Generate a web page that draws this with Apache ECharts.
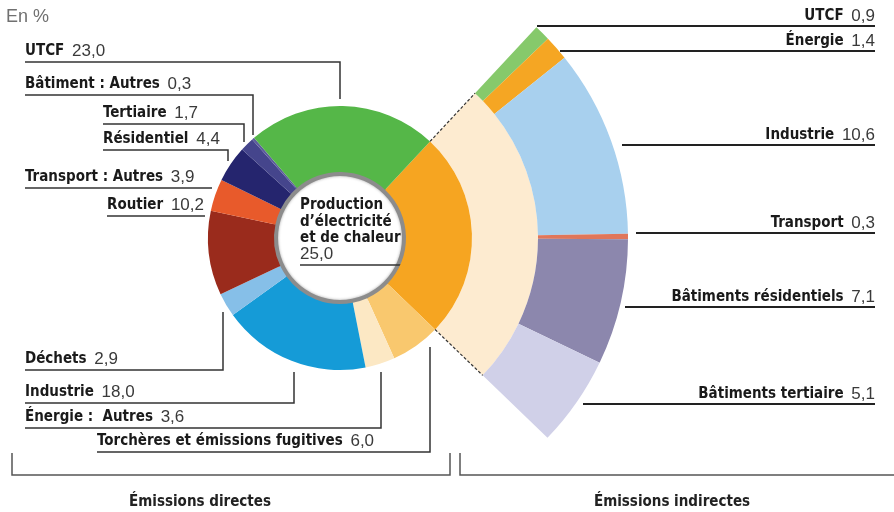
<!DOCTYPE html>
<html>
<head>
<meta charset="utf-8">
<script src="https://cdn.jsdelivr.net/npm/echarts@6/dist/echarts.min.js"></script>
<style>
  html, body { margin: 0; padding: 0; background: #fff; }
  #main { width: 894px; height: 512px; }
</style>
</head>
<body>
<div id="main"></div>
<script>
// émissions directes (anneau), sens horaire à partir de la production d'électricité
var directNames = ['Production\nd’électricité\net de chaleur', 'Torchères et émissions fugitives', 'Énergie :  Autres', 'Industrie', 'Déchets', 'Routier', 'Transport : Autres', 'Résidentiel', 'Tertiaire', 'Bâtiment : Autres', 'UTCF']
var directValues = [25.0, 6.0, 3.6, 18.0, 2.9, 10.2, 3.9, 4.4, 1.7, 0.3, 23.0]
var directColors = ['#f6a521', '#f9c86e', '#fce8c4', '#159bd7', '#86bfe8', '#9a2b1c', '#e85a2b', '#25256e', '#45458c', '#5d5d9c', '#55b748']

// émissions indirectes (éventail autour de la production d'électricité)
var indirectNames = ['UTCF', 'Énergie', 'Industrie', 'Transport', 'Bâtiments résidentiels', 'Bâtiments tertiaire']
var indirectValues = [0.9, 1.4, 10.6, 0.3, 7.1, 5.1]
var indirectColors = ['#86c96b', '#f5a623', '#a8d0ee', '#e0765a', '#8c87ad', '#d0d0e8']

// placement des étiquettes : [x du texte, y du soulignement, x du trait, y du bout du trait]
var directLabelPos = [
  [300, 265, 402, 265],
  [97, 452, 430, 347],
  [25, 428, 381, 372],
  [25, 403, 294, 372],
  [25, 370, 223, 312],
  [107, 216, 205, 216],
  [25, 188, 212, 188],
  [103, 150, 228, 161],
  [103, 124, 244, 142],
  [25, 95, 253, 135],
  [25, 62, 340, 99]
]
// [x droit du texte, y du soulignement, x de départ du trait]
var indirectLabelPos = [
  [875, 26, 537],
  [875, 51, 560],
  [875, 145, 622],
  [875, 233, 636],
  [875, 307, 625],
  [875, 404, 583]
]

var cx = 340
var cy = 238
var rHole = 66
var rDonut = 132
var rCream = 198
var rFan = 288
var startAngle = 47

var nameFont = '"DejaVu Sans Condensed", "Liberation Sans Narrow", sans-serif'
var valueFont = '"Liberation Sans", Arial, sans-serif'

function fmt (v) {
  return v.toFixed(1).replace('.', ',')
}

var total = directValues.reduce(function (a, b) { return a + b }, 0)
var prodValue = directValues[0]
var fanSum = indirectValues.reduce(function (a, b) { return a + b }, 0)
// l'éventail couvre le même angle que la part de la production
var fanFiller = fanSum * total / prodValue - fanSum

var richStyle = {
  n: { fontFamily: nameFont, fontWeight: 'bold', fontSize: 15, color: '#1a1a1a', lineHeight: 18 },
  v: { fontFamily: valueFont, fontSize: 17, color: '#3a3a3a', lineHeight: 18, padding: [0, 0, 0, 3] },
  cn: { fontFamily: nameFont, fontWeight: 'bold', fontSize: 15, color: '#1a1a1a', lineHeight: 16.5 },
  cv: { fontFamily: valueFont, fontSize: 17, color: '#3a3a3a', lineHeight: 16.5 }
}

var donutData = []
for (var i = 0; i < directValues.length; i++) {
  donutData.push({
    name: directNames[i],
    value: directValues[i],
    itemStyle: { color: directColors[i] }
  })
}

var creamData = [
  { value: prodValue, itemStyle: { color: '#fdebd0' } },
  { value: total - prodValue, itemStyle: { color: 'transparent' } }
]

var fanData = []
for (var j = 0; j < indirectValues.length; j++) {
  fanData.push({
    name: indirectNames[j],
    value: indirectValues[j],
    itemStyle: { color: indirectColors[j] }
  })
}
fanData.push({ name: '', value: fanFiller, itemStyle: { color: 'transparent' }, label: { show: false }, labelLine: { show: false } })

// traits pointillés de l'éclaté
var dashLines = []
var edgeAngles = [startAngle, startAngle - prodValue / total * 360]
edgeAngles.forEach(function (deg) {
  var a = deg * Math.PI / 180
  dashLines.push({
    type: 'line',
    silent: true,
    z: 10,
    shape: {
      x1: cx + rDonut * Math.cos(a), y1: cy - rDonut * Math.sin(a),
      x2: cx + rCream * Math.cos(a), y2: cy - rCream * Math.sin(a)
    },
    style: { stroke: '#333', lineWidth: 1.2, lineDash: [3, 2] }
  })
})

var myChart = echarts.init(document.getElementById('main'), null, { renderer: 'canvas' })

var option = {
  backgroundColor: '#fff',
  animation: false,
  graphic: [
    {
      type: 'text', left: 6, top: 8,
      style: { text: 'En %', fontFamily: valueFont, fontSize: 18, fill: '#707070' }
    },
    {
      type: 'polyline', silent: true,
      shape: { points: [[12, 453], [12, 475], [450, 475], [450, 453]] },
      style: { stroke: '#555', lineWidth: 1.5, fill: null }
    },
    {
      type: 'polyline', silent: true,
      shape: { points: [[460, 453], [460, 475], [894, 475]] },
      style: { stroke: '#555', lineWidth: 1.5, fill: null }
    },
    {
      type: 'text', x: 200, y: 502,
      style: { text: 'Émissions directes', fontFamily: nameFont, fontWeight: 'bold', fontSize: 15, fill: '#222', align: 'center', verticalAlign: 'middle' }
    },
    {
      type: 'text', x: 672, y: 502,
      style: { text: 'Émissions indirectes', fontFamily: nameFont, fontWeight: 'bold', fontSize: 15, fill: '#222', align: 'center', verticalAlign: 'middle' }
    }
  ].concat(dashLines),
  series: [
    {
      type: 'pie',
      name: 'bande',
      silent: true,
      z: 1,
      center: [cx, cy],
      radius: [rDonut, rCream],
      startAngle: startAngle,
      clockwise: true,
      label: { show: false },
      labelLine: { show: false },
      itemStyle: { borderWidth: 0 },
      emphasis: { disabled: true },
      data: creamData
    },
    {
      type: 'pie',
      name: 'Émissions indirectes',
      silent: true,
      z: 2,
      center: [cx, cy],
      radius: [rCream, rFan],
      startAngle: startAngle,
      clockwise: true,
      avoidLabelOverlap: false,
      itemStyle: { borderWidth: 0 },
      emphasis: { disabled: true },
      label: {
        show: true,
        position: 'outside',
        fontSize: 17,
        fontFamily: valueFont,
        formatter: function (p) {
          return '{n|' + p.name + '} {v|' + fmt(p.value) + '}'
        },
        rich: richStyle
      },
      labelLine: { show: true, lineStyle: { color: '#222', width: 2 } },
      labelLayout: function (params) {
        var pos = indirectLabelPos[params.dataIndex]
        if (!pos) return {}
        return {
          x: pos[0],
          y: pos[1] - 1,
          align: 'right',
          verticalAlign: 'bottom',
          labelLinePoints: [[pos[2], pos[1]], [pos[2], pos[1]], [pos[0], pos[1]]]
        }
      },
      data: fanData
    },
    {
      type: 'pie',
      name: 'anneau',
      silent: true,
      z: 3,
      center: [cx, cy],
      radius: [rHole - 4, rHole + 1],
      label: { show: false },
      labelLine: { show: false },
      itemStyle: { borderWidth: 0, color: '#8c8c8c', shadowBlur: 3, shadowColor: 'rgba(0,0,0,0.35)' },
      emphasis: { disabled: true },
      data: [1]
    },
    {
      type: 'pie',
      name: 'Émissions directes',
      silent: true,
      z: 4,
      center: [cx, cy],
      radius: [rHole, rDonut],
      startAngle: startAngle,
      clockwise: true,
      avoidLabelOverlap: false,
      itemStyle: { borderWidth: 0 },
      emphasis: { disabled: true },
      label: {
        show: true,
        position: 'outside',
        fontSize: 17,
        fontFamily: valueFont,
        formatter: function (p) {
          if (p.dataIndex === 0) {
            return p.name.split('\n').map(function (s) { return '{cn|' + s + '}' }).join('\n') + '\n{cv|' + fmt(p.value) + '}'
          }
          return '{n|' + p.name + '} {v|' + fmt(p.value) + '}'
        },
        rich: richStyle
      },
      labelLine: { show: true, lineStyle: { color: '#333', width: 1.5 } },
      labelLayout: function (params) {
        var pos = directLabelPos[params.dataIndex]
        return {
          x: pos[0],
          y: pos[1] - 2,
          align: 'left',
          verticalAlign: 'bottom',
          labelLinePoints: [[pos[2], pos[3]], [pos[2], pos[1]], [pos[0], pos[1]]]
        }
      },
      data: donutData
    }
  ]
}
myChart.setOption(option)
</script>
</body>
</html>
